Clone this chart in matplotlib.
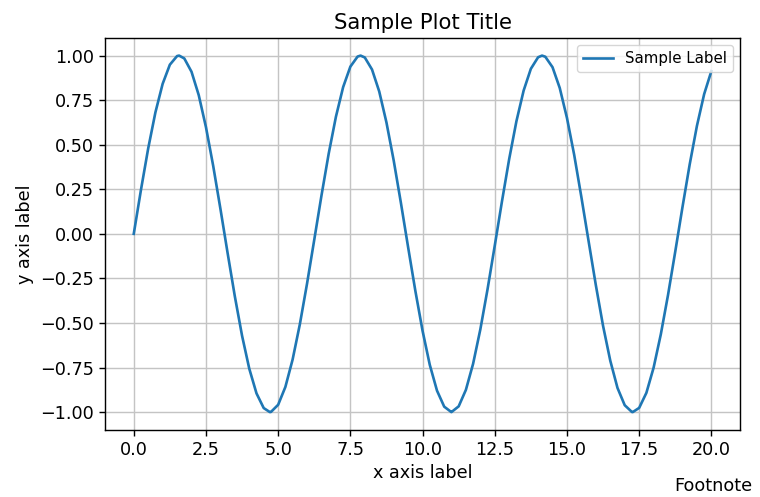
import matplotlib
matplotlib.use("Agg")
import matplotlib.pyplot as plt

grid_x = [i * 0.25 for i in range(81)]
grid_y = [
    0.0000, 0.2474, 0.4794, 0.6816, 0.8415, 0.9490, 0.9975, 0.9840, 0.9093, 0.7781,
    0.5985, 0.3817, 0.1411, -0.1082, -0.3508, -0.5716, -0.7568, -0.8950, -0.9775, -0.9993,
    -0.9589, -0.8589, -0.7055, -0.5083, -0.2794, -0.0332, 0.2151, 0.4500, 0.6570, 0.8233,
    0.9380, 0.9945, 0.9894, 0.9219, 0.7985, 0.6247, 0.4121, 0.1738, -0.0752, -0.3195,
    -0.5440, -0.7350, -0.8797, -0.9696, -1.0000, -0.9679, -0.8755, -0.7290, -0.5366, -0.3111,
    -0.0663, 0.1826, 0.4202, 0.6317, 0.8038, 0.9260, 0.9906, 0.9936, 0.9349, 0.8184,
    0.6503, 0.4433, 0.2055, -0.0420, -0.2879, -0.5163, -0.7118, -0.8646, -0.9614, -0.9996,
    -0.9765, -0.8922, -0.7510, -0.5636, -0.3425, -0.0994, 0.1499, 0.3898, 0.6055, 0.7836,
    0.9129,
]
# extreme points of the wave
peak_x = [1.571, 4.712, 7.854, 10.996, 14.137, 17.279]
peak_y = [1.0, -1.0, 1.0, -1.0, 1.0, -1.0]

series_label = "Sample Label"
title = "Sample Plot Title"
x_label = "x axis label"
y_label = "y axis label"
footnote = "Footnote"
x_ticks = [0, 2.5, 5, 7.5, 10, 12.5, 15, 17.5, 20]
y_ticks = [-1, -0.75, -0.5, -0.25, 0, 0.25, 0.5, 0.75, 1.0]

points = sorted(zip(grid_x + peak_x, grid_y + peak_y))
xs = [p[0] for p in points]
ys = [p[1] for p in points]

S = 1.27  # scale factor
fig = plt.figure(figsize=(7.6, 4.97), dpi=100)
ax = fig.add_axes([0.138, 0.135, 0.836, 0.789])
ax.plot(xs, ys, color="#1f77b4", linewidth=1.5 * S, label=series_label,
        solid_joinstyle="round")
ax.set_title(title, fontsize=12 * S)
ax.set_xlabel(x_label, fontsize=10 * S)
ax.set_ylabel(y_label, fontsize=10 * S)
ax.grid(True, color="#c4c4c4", linewidth=0.8 * S)
ax.tick_params(labelsize=10 * S, length=3.5 * S, width=0.8 * S)
for sp in ax.spines.values():
    sp.set_linewidth(0.8 * S)
ax.set_xticks(x_ticks)
ax.set_yticks(y_ticks)
ax.set_xlim(-1.0, 21.0)
ax.set_ylim(-1.1, 1.1)
ax.legend(loc="upper right", fontsize=8.5 * S)
fig.text(0.99, 0.005, footnote, ha="right", va="bottom", fontsize=10 * S)
fig.savefig("out.png", dpi=100)
